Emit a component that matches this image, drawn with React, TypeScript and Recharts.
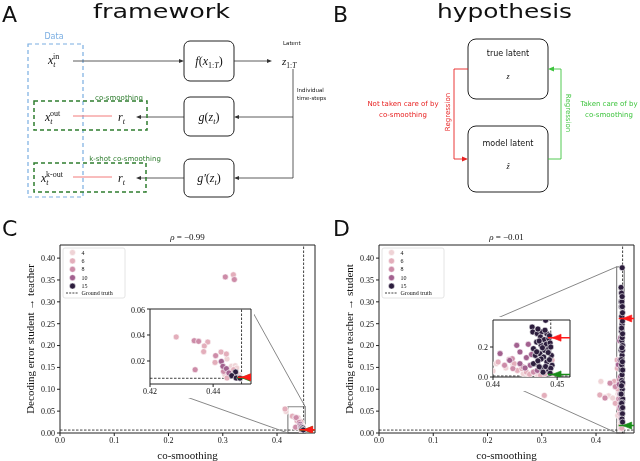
import { ScatterChart, Scatter, XAxis, YAxis, ReferenceLine, ReferenceArea } from "recharts";

const SERIF = "'Liberation Serif', 'DejaVu Serif', serif";
const SANS = "'DejaVu Sans', 'Liberation Sans', sans-serif";

// hue levels (number of latents) and their colours
const HUES = ["4", "6", "8", "10", "15"];
const HUE_COLORS = ["#efd3d6", "#e3aebb", "#cd8ca8", "#a2618f", "#2c1d3d"];

const X_TICKS = [0, 0.1, 0.2, 0.3, 0.4];
const Y_TICKS = [0, 0.05, 0.1, 0.15, 0.2, 0.25, 0.3, 0.35, 0.4];
const GT_X = 0.449;
const GT_Y = 0.0067;

// panel C: student -> teacher
const c4 = [
  { x: 0.4444, y: 0.0215 }, { x: 0.4458, y: 0.0159 }, { x: 0.447, y: 0.0164 }, { x: 0.4475, y: 0.0146 },
  { x: 0.4437, y: 0.0095 }, { x: 0.4482, y: 0.0095 }, { x: 0.445, y: 0.0125 }, { x: 0.4166, y: 0.049 },
];
const c6 = [
  { x: 0.4283, y: 0.0385 }, { x: 0.4383, y: 0.0346 }, { x: 0.4372, y: 0.0315 }, { x: 0.437, y: 0.0272 },
  { x: 0.4425, y: 0.0269 }, { x: 0.4442, y: 0.0254 }, { x: 0.4406, y: 0.0189 }, { x: 0.4465, y: 0.0133 },
  { x: 0.4444, y: 0.0069 }, { x: 0.4481, y: 0.0077 }, { x: 0.3195, y: 0.362 }, { x: 0.4148, y: 0.055 },
];
const c8 = [
  { x: 0.434, y: 0.0356 }, { x: 0.4354, y: 0.0351 }, { x: 0.4343, y: 0.0133 }, { x: 0.4408, y: 0.0241 },
  { x: 0.4433, y: 0.012 }, { x: 0.3047, y: 0.357 }, { x: 0.3213, y: 0.351 },
];
const c10 = [{ x: 0.4426, y: 0.0197 }, { x: 0.4431, y: 0.0159 }, { x: 0.4442, y: 0.0141 }, { x: 0.445, y: 0.0108 }];
const c15 = [{ x: 0.4471, y: 0.0115 }, { x: 0.4459, y: 0.0087 }, { x: 0.4473, y: 0.0069 }, { x: 0.4485, y: 0.0068 }];
const cRed = [{ x: 0.4491, y: 0.0075 }];
const cGreen = [{ x: 0.4489, y: 0.0072 }];

// panel D: teacher -> student
const d4 = [
  { x: 0.4405, y: 0.089 }, { x: 0.4431, y: 0.085 }, { x: 0.4447, y: 0.022 }, { x: 0.4468, y: 0.018 },
  { x: 0.4492, y: 0.018 }, { x: 0.4463, y: 0.03 }, { x: 0.44, y: 0.04 }, { x: 0.4455, y: 0.01 },
  { x: 0.442, y: 0.06 }, { x: 0.409, y: 0.118 }, { x: 0.4233, y: 0.085 }, { x: 0.4307, y: 0.08 },
];
const d6 = [
  { x: 0.4408, y: 0.1 }, { x: 0.4433, y: 0.089 }, { x: 0.4438, y: 0.044 }, { x: 0.4445, y: 0.056 },
  { x: 0.4452, y: 0.033 }, { x: 0.4457, y: 0.018 }, { x: 0.4474, y: 0.011 }, { x: 0.4481, y: 0.022 },
  { x: 0.4484, y: 0.056 }, { x: 0.4492, y: 0.111 }, { x: 0.3047, y: 0.086 }, { x: 0.407, y: 0.087 },
  { x: 0.4166, y: 0.082 }, { x: 0.4338, y: 0.118 }, { x: 0.4356, y: 0.068 }, { x: 0.4425, y: 0.116 },
  { x: 0.4394, y: 0.148 }, { x: 0.439, y: 0.167 },
];
const d8 = [
  { x: 0.443, y: 0.122 }, { x: 0.4418, y: 0.078 }, { x: 0.4431, y: 0.056 }, { x: 0.4447, y: 0.067 },
  { x: 0.4463, y: 0.033 }, { x: 0.4258, y: 0.114 }, { x: 0.4356, y: 0.106 }, { x: 0.4166, y: 0.08 },
];
const d10 = [
  { x: 0.4437, y: 0.211 }, { x: 0.4411, y: 0.156 }, { x: 0.4442, y: 0.167 }, { x: 0.4452, y: 0.129 },
  { x: 0.4455, y: 0.218 }, { x: 0.4426, y: 0.111 }, { x: 0.4442, y: 0.089 }, { x: 0.4458, y: 0.078 },
  { x: 0.4469, y: 0.044 }, { x: 0.445, y: 0.06 }, { x: 0.446, y: 0.15 },
];
const d15 = [
  { x: 0.4482, y: 0.378 }, { x: 0.4461, y: 0.333 }, { x: 0.4462, y: 0.3 }, { x: 0.4469, y: 0.289 },
  { x: 0.4476, y: 0.3 }, { x: 0.4484, y: 0.289 }, { x: 0.4474, y: 0.267 }, { x: 0.448, y: 0.249 },
  { x: 0.4487, y: 0.256 }, { x: 0.4468, y: 0.233 }, { x: 0.4475, y: 0.211 }, { x: 0.4483, y: 0.218 },
  { x: 0.4489, y: 0.227 }, { x: 0.4463, y: 0.189 }, { x: 0.448, y: 0.178 }, { x: 0.4487, y: 0.189 },
  { x: 0.4466, y: 0.144 }, { x: 0.4473, y: 0.156 }, { x: 0.4479, y: 0.133 }, { x: 0.4491, y: 0.144 },
  { x: 0.4484, y: 0.1 }, { x: 0.4469, y: 0.089 }, { x: 0.4492, y: 0.078 }, { x: 0.4476, y: 0.056 },
  { x: 0.4487, y: 0.044 }, { x: 0.4463, y: 0.089 }, { x: 0.447, y: 0.32 }, { x: 0.4481, y: 0.312 },
  { x: 0.4488, y: 0.275 }, { x: 0.4472, y: 0.24 }, { x: 0.449, y: 0.2 }, { x: 0.4477, y: 0.195 },
  { x: 0.4468, y: 0.168 }, { x: 0.4486, y: 0.163 }, { x: 0.4475, y: 0.12 }, { x: 0.4488, y: 0.115 },
  { x: 0.447, y: 0.108 }, { x: 0.4482, y: 0.07 }, { x: 0.4472, y: 0.068 }, { x: 0.449, y: 0.058 },
  { x: 0.4478, y: 0.032 }, { x: 0.4489, y: 0.025 },
];
const dRed = [{ x: 0.4492, y: 0.262 }];
const dGreen = [{ x: 0.4492, y: 0.017 }];

const cGroups = [c4, c6, c8, c10, c15];
const dGroups = [d4, d6, d8, d10, d15];

const dot = (color: string) => (p: any) => (
  <circle cx={p.cx} cy={p.cy} r={3} fill={color} stroke="#fff" strokeWidth={0.6} />
);

const arrow = (color: string) => (p: any) => (
  <g>
    <line x1={p.cx - 4} y1={p.cy} x2={p.cx + 40} y2={p.cy} stroke={color} strokeWidth={1.6} />
    <polygon
      points={`${p.cx},${p.cy} ${p.cx + 9},${p.cy - 3.5} ${p.cx + 9},${p.cy + 3.5}`}
      fill={color} stroke={color} strokeWidth={0.6}
    />
  </g>
);

const AXIS = "#222";
const tickStyle = { fontSize: 8, fill: "#111", stroke: "none", fontFamily: SERIF };
const axLine = { stroke: AXIS, strokeWidth: 1 };

function Points({ groups, red, green, xId, yId }: any) {
  return (
    <>
      {groups.map((g: any[], i: number) => (
        <Scatter key={HUES[i]} data={g} xAxisId={xId} yAxisId={yId} fill={HUE_COLORS[i]}
          shape={dot(HUE_COLORS[i])} isAnimationActive={false} />
      ))}
      <Scatter data={green} xAxisId={xId} yAxisId={yId} fill="#1a8c1a" shape={arrow("#1a8c1a")} isAnimationActive={false} />
      <Scatter data={red} xAxisId={xId} yAxisId={yId} fill="#ff1a1a" shape={arrow("#ff1a1a")} isAnimationActive={false} />
    </>
  );
}

function MainPanel({ left, yLabel, groups, red, green, rect }: any) {
  return (
    <div style={{ position: "absolute", left, top: 230 }}>
      <ScatterChart width={320} height={231} margin={{ top: 0, right: 0, bottom: 0, left: 0 }}>
        <XAxis xAxisId="b" type="number" dataKey="x" domain={[0, 0.47]} ticks={X_TICKS} allowDataOverflow
          tickFormatter={(v: number) => v.toFixed(1)} height={28} tick={tickStyle} tickSize={3} tickMargin={1}
          axisLine={axLine} tickLine={axLine}
          label={{ value: "co-smoothing", position: "insideBottom", offset: 2, fontSize: 11, fill: "#111", fontFamily: SERIF }} />
        <XAxis xAxisId="t" type="number" orientation="top" domain={[0, 0.47]} tick={false} tickLine={false}
          height={15} axisLine={axLine} allowDataOverflow />
        <YAxis yAxisId="l" type="number" dataKey="y" domain={[0, 0.43]} ticks={Y_TICKS} allowDataOverflow
          tickFormatter={(v: number) => v.toFixed(2)} width={60} tick={tickStyle} tickSize={3} tickMargin={2}
          axisLine={axLine} tickLine={axLine}
          label={{ value: yLabel, position: "center", angle: -90, fontSize: 11, fill: "#111", fontFamily: SERIF }} />
        <YAxis yAxisId="r" type="number" orientation="right" domain={[0, 0.43]} tick={false} tickLine={false}
          width={5} axisLine={axLine} allowDataOverflow />
        <ReferenceArea xAxisId="b" yAxisId="l" x1={rect[0]} x2={rect[1]} y1={0} y2={rect[2]}
          fill="none" stroke="#888" strokeWidth={1.2} />
        <ReferenceLine xAxisId="b" yAxisId="l" x={GT_X} stroke="#111" strokeWidth={0.8} strokeDasharray="2.5 1.5" />
        <ReferenceLine xAxisId="b" yAxisId="l" y={GT_Y} stroke="#111" strokeWidth={0.8} strokeDasharray="2.5 1.5" />
        {Points({ groups, red, green, xId: "b", yId: "l" })}
      </ScatterChart>
    </div>
  );
}

function Inset({ left, top, w, h, xDomain, yDomain, xTicks, yTicks, xFmt, yFmt, groups, red, green }: any) {
  return (
    <div style={{ position: "absolute", left, top, background: "#fff" }}>
      <ScatterChart width={30 + w + 3} height={3 + h + 14} margin={{ top: 0, right: 0, bottom: 0, left: 0 }}>
        <XAxis xAxisId="b" type="number" dataKey="x" domain={xDomain} ticks={xTicks} allowDataOverflow
          tickFormatter={xFmt} height={14} tick={tickStyle} tickSize={3} tickMargin={1}
          axisLine={axLine} tickLine={axLine} />
        <XAxis xAxisId="t" type="number" orientation="top" domain={xDomain} tick={false} tickLine={false}
          height={3} axisLine={axLine} allowDataOverflow />
        <YAxis yAxisId="l" type="number" dataKey="y" domain={yDomain} ticks={yTicks} allowDataOverflow
          tickFormatter={yFmt} width={30} tick={tickStyle} tickSize={3} tickMargin={2}
          axisLine={axLine} tickLine={axLine} />
        <YAxis yAxisId="r" type="number" orientation="right" domain={yDomain} tick={false} tickLine={false}
          width={3} axisLine={axLine} allowDataOverflow />
        <ReferenceLine xAxisId="b" yAxisId="l" x={GT_X} stroke="#111" strokeWidth={0.8} strokeDasharray="2.5 1.5" />
        <ReferenceLine xAxisId="b" yAxisId="l" y={GT_Y} stroke="#111" strokeWidth={0.8} strokeDasharray="2.5 1.5" />
        {Points({ groups, red, green, xId: "b", yId: "l" })}
      </ScatterChart>
    </div>
  );
}

// main plot geometry, used only for the zoom connector lines
const mx = (left: number, v: number) => left + 60 + (v / 0.47) * 255;
const my = (v: number) => 433 - (v / 0.43) * 188;

function Legend({ x, y }: { x: number; y: number }) {
  return (
    <g>
      <rect x={x} y={y} width={62} height={50} rx={2} fill="#fff" stroke="#ddd" strokeWidth={0.8} />
      {HUES.map((h, i) => (
        <g key={h}>
          <circle cx={x + 9.5} cy={y + 4.5 + i * 8.4} r={3} fill={HUE_COLORS[i]} stroke="#fff" strokeWidth={0.5} />
          <text x={x + 18.5} y={y + 6.5 + i * 8.4} fontSize={6} fontFamily={SERIF} fill="#111">{h}</text>
        </g>
      ))}
      <line x1={x + 3} x2={x + 15} y1={y + 45} y2={y + 45} stroke="#111" strokeWidth={0.8} strokeDasharray="2 1.2" />
      <text x={x + 18.5} y={y + 47} fontSize={6} fontFamily={SERIF} fill="#111">Ground truth</text>
    </g>
  );
}

function Arrow({ x, y, dir }: { x: number; y: number; dir: number }) {
  return <polygon points={`${x},${y} ${x - 5 * dir},${y - 2} ${x - 5 * dir},${y + 2}`} fill="#333" />;
}

function Diagrams() {
  const ln = { stroke: "#333", strokeWidth: 0.8 };
  const box = { fill: "#fff", stroke: "#222", strokeWidth: 1 };
  const blue = "#7aaee2";
  const dgreen = "#2f7d2f";
  const red = "#e82222";
  const lgreen = "#3ec43e";
  return (
    <g>
      {/* panel letters and titles */}
      <text x={2} y={22} fontSize={22} fontFamily={SANS} fill="#111">A</text>
      <text x={333} y={22} fontSize={22} fontFamily={SANS} fill="#111">B</text>
      <text x={2} y={236} fontSize={22} fontFamily={SANS} fill="#111">C</text>
      <text x={333} y={236} fontSize={22} fontFamily={SANS} fill="#111">D</text>
      <text x={93} y={18} fontSize={20} fontFamily={SANS} fill="#111" textLength={137} lengthAdjust="spacingAndGlyphs">framework</text>
      <text x={437} y={18} fontSize={20} fontFamily={SANS} fill="#111" textLength={135} lengthAdjust="spacingAndGlyphs">hypothesis</text>

      {/* A: framework */}
      <rect x={28} y={44} width={55} height={153} fill="none" stroke={blue} strokeWidth={1.2} strokeDasharray="4 3" />
      <text x={54} y={39} fontSize={8} fontFamily={SANS} fill={blue} textAnchor="middle">Data</text>
      <text x={48} y={64} fontFamily={SERIF} fontSize={12} fill="#111">
        <tspan fontStyle="italic">x</tspan>
        <tspan fontSize={8} fontStyle="italic" dy={3}>t</tspan>
        <tspan fontSize={8} dx={-2.5} dy={-8}>in</tspan>
      </text>
      <line x1={73} y1={61} x2={182} y2={61} {...ln} />
      <Arrow x={184} y={61} dir={1} />
      <rect x={184} y={41} width={50} height={40} rx={6} {...box} />
      <text x={209} y={65} textAnchor="middle" fontFamily={SERIF} fontSize={12} fill="#111">
        <tspan fontStyle="italic">f</tspan>(<tspan fontStyle="italic">x</tspan>
        <tspan fontSize={8} dy={3}>1:</tspan><tspan fontSize={8} fontStyle="italic">T</tspan>
        <tspan dy={-3}>)</tspan>
      </text>
      <line x1={234} y1={61} x2={268} y2={61} {...ln} />
      <Arrow x={272} y={61} dir={1} />
      <text x={283} y={45} fontSize={5.5} fontFamily={SANS} fill="#111">Latent</text>
      <text x={282} y={65} fontFamily={SERIF} fontSize={11} fill="#111">
        <tspan fontStyle="italic">z</tspan>
        <tspan fontSize={7.5} dy={3}>1:</tspan><tspan fontSize={7.5} fontStyle="italic">T</tspan>
      </text>
      <polyline points="293,69 293,178 236,178" fill="none" {...ln} />
      <line x1={293} y1={117} x2={236} y2={117} {...ln} />
      <Arrow x={234} y={117} dir={-1} />
      <Arrow x={234} y={178} dir={-1} />
      <text x={297} y={92} fontSize={5.5} fontFamily={SANS} fill="#111">Individual</text>
      <text x={297} y={100} fontSize={5.5} fontFamily={SANS} fill="#111">time-steps</text>

      <rect x={184} y={97} width={50} height={39} rx={6} {...box} />
      <text x={209} y={121} textAnchor="middle" fontFamily={SERIF} fontSize={12} fill="#111">
        <tspan fontStyle="italic">g</tspan>(<tspan fontStyle="italic">z</tspan>
        <tspan fontSize={8} fontStyle="italic" dy={3}>t</tspan><tspan dy={-3}>)</tspan>
      </text>
      <rect x={184} y={159} width={50} height={38} rx={6} {...box} />
      <text x={209} y={182} textAnchor="middle" fontFamily={SERIF} fontSize={12} fill="#111">
        <tspan fontStyle="italic">g′</tspan>(<tspan fontStyle="italic">z</tspan>
        <tspan fontSize={8} fontStyle="italic" dy={3}>t</tspan><tspan dy={-3}>)</tspan>
      </text>

      <line x1={184} y1={117} x2={139} y2={117} {...ln} />
      <Arrow x={136} y={117} dir={-1} />
      <line x1={184} y1={178} x2={139} y2={178} {...ln} />
      <Arrow x={136} y={178} dir={-1} />

      <rect x={34} y={101} width={113} height={29} fill="none" stroke={dgreen} strokeWidth={1.5} strokeDasharray="4 3" />
      <rect x={34} y={163} width={112} height={29} fill="none" stroke={dgreen} strokeWidth={1.5} strokeDasharray="4 3" />
      <text x={119} y={99.5} fontSize={7} fontFamily={SANS} fill={dgreen} textAnchor="middle">co-smoothing</text>
      <text x={125} y={160.5} fontSize={7} fontFamily={SANS} fill={dgreen} textAnchor="middle">k-shot co-smoothing</text>

      <text x={45} y={121} fontFamily={SERIF} fontSize={12} fill="#111">
        <tspan fontStyle="italic">x</tspan>
        <tspan fontSize={8} fontStyle="italic" dy={3}>t</tspan>
        <tspan fontSize={8} dx={-2.5} dy={-8}>out</tspan>
      </text>
      <text x={41} y={182} fontFamily={SERIF} fontSize={12} fill="#111">
        <tspan fontStyle="italic">x</tspan>
        <tspan fontSize={8} fontStyle="italic" dy={3}>t</tspan>
        <tspan fontSize={8} dx={-2.5} dy={-8}>k-out</tspan>
      </text>
      <line x1={73} y1={116} x2={112} y2={116} stroke="#f27a7a" strokeWidth={1} />
      <line x1={73} y1={177} x2={112} y2={177} stroke="#f27a7a" strokeWidth={1} />
      <text x={118} y={121} fontFamily={SERIF} fontSize={12} fill="#111">
        <tspan fontStyle="italic">r</tspan><tspan fontSize={8} fontStyle="italic" dy={3}>t</tspan>
      </text>
      <text x={118} y={182} fontFamily={SERIF} fontSize={12} fill="#111">
        <tspan fontStyle="italic">r</tspan><tspan fontSize={8} fontStyle="italic" dy={3}>t</tspan>
      </text>

      {/* B: hypothesis */}
      <rect x={468} y={39} width={80} height={60} rx={8} {...box} />
      <text x={508} y={56} fontSize={8} fontFamily={SANS} fill="#111" textAnchor="middle">true latent</text>
      <text x={508} y={79} fontSize={8} fontFamily={SERIF} fontStyle="italic" fill="#111" textAnchor="middle">z</text>
      <rect x={468} y={126} width={80} height={66} rx={8} {...box} />
      <text x={508} y={146} fontSize={8} fontFamily={SANS} fill="#111" textAnchor="middle">model latent</text>
      <text x={508} y={169} fontSize={8} fontFamily={SERIF} fontStyle="italic" fill="#111" textAnchor="middle">ẑ</text>

      <polyline points="468,69 454,69 454,159 464,159" fill="none" stroke={red} strokeWidth={0.9} />
      <polygon points="468,159 462,156.5 462,161.5" fill={red} />
      <text transform="translate(449.5 112) rotate(-90)" fontSize={7} fontFamily={SANS} fill={red} textAnchor="middle">Regression</text>
      <text x={403} y={106} fontSize={7} fontFamily={SANS} fill={red} textAnchor="middle">Not taken care of by</text>
      <text x={403} y={117} fontSize={7} fontFamily={SANS} fill={red} textAnchor="middle">co-smoothing</text>

      <polyline points="548,159 561,159 561,69 552,69" fill="none" stroke={lgreen} strokeWidth={0.9} />
      <polygon points="548,69 554,66.5 554,71.5" fill={lgreen} />
      <text transform="translate(565.5 113) rotate(90)" fontSize={7} fontFamily={SANS} fill={lgreen} textAnchor="middle">Regression</text>
      <text x={609} y={106} fontSize={7} fontFamily={SANS} fill={lgreen} textAnchor="middle">Taken care of by</text>
      <text x={609} y={117} fontSize={7} fontFamily={SANS} fill={lgreen} textAnchor="middle">co-smoothing</text>

      {/* plot titles */}
      <text x={187.5} y={240} fontSize={9} fontFamily={SERIF} fill="#111" textAnchor="middle">
        <tspan fontStyle="italic">ρ</tspan> = −0.99
      </text>
      <text x={506.5} y={240} fontSize={9} fontFamily={SERIF} fill="#111" textAnchor="middle">
        <tspan fontStyle="italic">ρ</tspan> = −0.01
      </text>

      {/* zoom connectors */}
      <line x1={251} y1={309} x2={mx(0, 0.452)} y2={my(0.06)} stroke="#888" strokeWidth={1} />
      <line x1={150} y1={384} x2={mx(0, 0.42)} y2={my(0)} stroke="#888" strokeWidth={1} />
      <line x1={493} y1={320} x2={mx(319, 0.438)} y2={my(0.38)} stroke="#888" strokeWidth={1} />
      <line x1={493} y1={377} x2={mx(319, 0.438)} y2={my(0)} stroke="#888" strokeWidth={1} />

      <Legend x={63} y={248} />
      <Legend x={382} y={248} />
    </g>
  );
}

export default function App() {
  return (
    <div style={{
      position: "absolute", left: 0, top: 0, width: 640, height: 461, background: "#fff", overflow: "hidden",
      transform: "translateZ(0)", willChange: "transform", opacity: 0.999,
    }}>
      <MainPanel left={0} yLabel="Decoding error student → teacher" groups={cGroups} red={cRed} green={cGreen}
        rect={[0.42, 0.452, 0.06]} />
      <MainPanel left={319} yLabel="Decoding error teacher → student" groups={dGroups} red={dRed} green={dGreen}
        rect={[0.438, 0.452, 0.38]} />
      <svg width={640} height={461} style={{ position: "absolute", left: 0, top: 0, pointerEvents: "none" }}>
        <Diagrams />
      </svg>
      <Inset left={120} top={306} w={101} h={75} xDomain={[0.42, 0.452]} yDomain={[0.0023, 0.06]}
        xTicks={[0.42, 0.44]} yTicks={[0.02, 0.04, 0.06]} xFmt={(v: number) => v.toFixed(2)}
        yFmt={(v: number) => v.toFixed(2)} groups={cGroups} red={cRed} green={cGreen} />
      <Inset left={463} top={317} w={77} h={57} xDomain={[0.44, 0.452]} yDomain={[0, 0.38]}
        xTicks={[0.44, 0.45]} yTicks={[0, 0.2]} xFmt={(v: number) => v.toFixed(2)}
        yFmt={(v: number) => v.toFixed(1)} groups={dGroups} red={dRed} green={dGreen} />
    </div>
  );
}
